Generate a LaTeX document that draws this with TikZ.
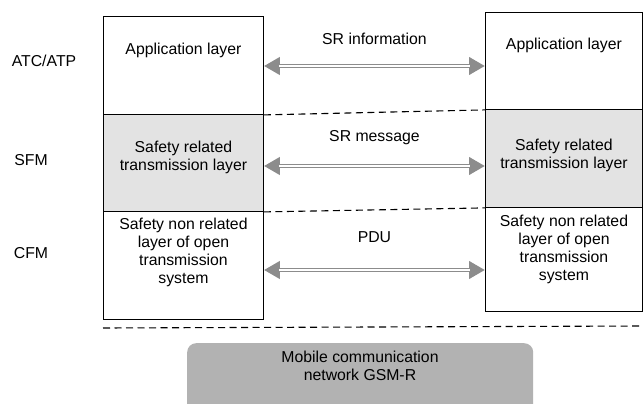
\documentclass[tikz,border=0pt]{standalone}
\usepackage{fontspec}
\setmainfont{Liberation Sans}
\usetikzlibrary{arrows.meta}

\tikzset{
  layerbox/.style={draw=black, line width=0.9pt, inner sep=0pt, minimum width=#1, anchor=north west},
  layertext/.style={align=center, anchor=north, inner sep=0pt},
  srlink/.style={draw=gray!90, line width=4.6pt,
    {Triangle[length=16pt, width=17pt]}-{Triangle[length=16pt, width=17pt]},
    postaction={draw=white, line width=1.5pt, arrows=-, shorten >=15pt, shorten <=15pt}},
  sepline/.style={dash pattern=on 7pt off 4.5pt, line width=1.1pt}
}

\begin{document}
\begin{tikzpicture}[x=1pt, y=-1pt, >=stealth, font=\fontsize{15.8}{17.8}\selectfont]
		\useasboundingbox (0,0) rectangle (643,404);
		% Left stack
		\node[layerbox=160pt, minimum height=98pt] (lapp) at (103,16) {};
		\node[layerbox=160pt, minimum height=97pt, fill=gray!22] (lsfm) at (103,114) {};
		\node[layerbox=160pt, minimum height=108pt] (lcfm) at (103,211) {};
		% Right stack
		\node[layerbox=157pt, minimum height=97pt] (rapp) at (485,12) {};
		\node[layerbox=157pt, minimum height=98pt, fill=gray!22] (rsfm) at (485,109) {};
		\node[layerbox=157pt, minimum height=104pt] (rcfm) at (485,207) {};
		% Texts inside the boxes
		\node[layertext] at ([yshift=-27]lapp.north) {Application layer};
		\node[layertext] at ([yshift=-27]lsfm.north) {Safety related\\transmission layer};
		\node[layertext] at ([yshift=-7]lcfm.north) {Safety non related\\layer of open\\transmission\\system};
		\node[layertext] at ([yshift=-26]rapp.north) {Application layer};
		\node[layertext] at ([yshift=-30]rsfm.north) {Safety related\\transmission layer};
		\node[layertext] at ([yshift=-8]rcfm.north) {Safety non related\\layer of open\\transmission\\system};
		% Level names
		\node (atc) at (44,61) {ATC/ATP};
		\node (sfm) at (31,160) {SFM};
		\node (cfm) at (31,253) {CFM};
		% Links between the stacks
		\draw[srlink] (lapp.east |- 0,66) -- (rapp.west |- 0,66) node[midway, above=16pt] (srinfo) {SR information};
		\draw[srlink] (lsfm.east |- 0,166) -- (rsfm.west |- 0,166) node[midway, above=16pt] (srmsg) {SR message};
		\draw[srlink] (lcfm.east |- 0,270) -- (rcfm.west |- 0,270) node[midway, above=22pt] (pdu) {PDU};
		% Dashed level borders
		\draw[sepline] (lapp.south east) -- (rapp.south west);
		\draw[sepline] (lsfm.south east) -- (rsfm.south west);
		\draw[sepline] (103,328) -- (643,326);
		% Network
		\node[fill=gray!60, rounded corners=9pt, minimum width=346pt, minimum height=72pt, anchor=north west] (gsmr) at (187,343) {};
		\node[align=center] at (360,366) {Mobile communication\\network GSM-R};
\end{tikzpicture}
\end{document}
